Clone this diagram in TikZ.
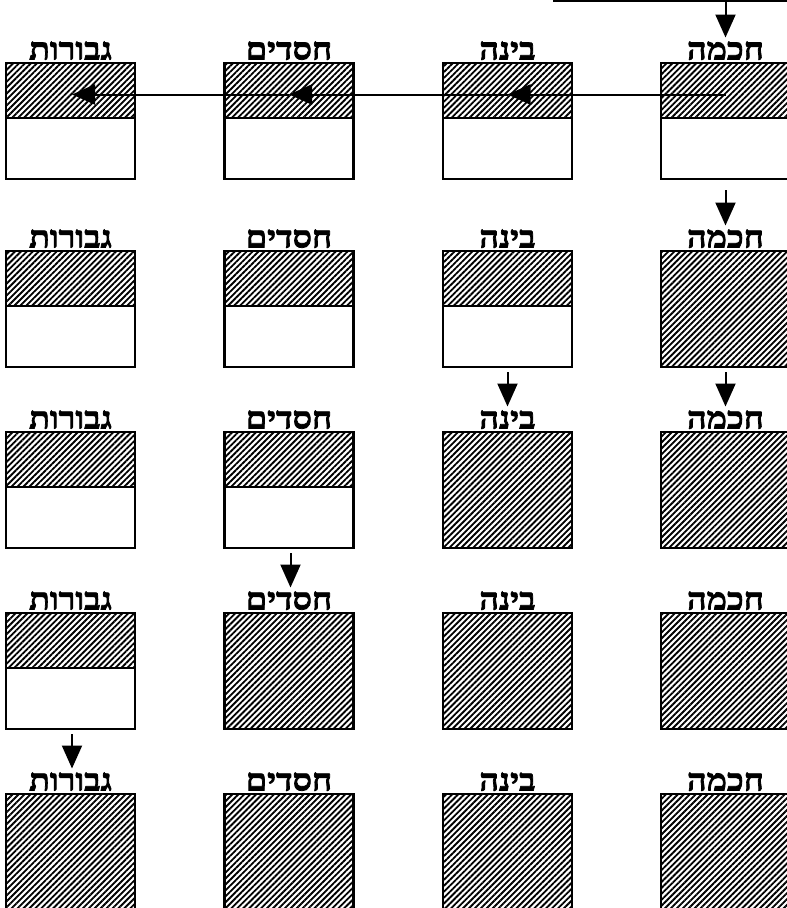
\documentclass[tikz,border=0pt]{standalone}
\usepackage{fontspec}
\newfontfamily\hebfont[Script=Hebrew,FakeStretch=1.12,FakeBold=2.5]{Liberation Serif Bold}
\TeXXeTstate=1
\usetikzlibrary{arrows.meta,patterns.meta,calc}
\begin{document}
\begin{tikzpicture}[x=1pt,y=-1pt,
  box/.style={draw=black,line width=2.2pt,minimum width=129pt,inner sep=0pt,outer sep=0pt},
  hatch/.style={pattern={Lines[angle=45,distance=4.2pt,line width=1.85pt]}},
  fullbox/.style={box,hatch,minimum height=116pt,anchor=north},
  halfbox/.style={box,fill=white,minimum height=116pt,anchor=north},
  tophalf/.style={box,hatch,minimum height=55pt,anchor=north},
  lbl/.style={font=\hebfont\fontsize{30.5}{30.5}\selectfont,anchor=base,inner sep=0pt},
  wire/.style={line width=2pt},
  arr/.style={line width=2pt,-{Triangle[length=23pt,width=20pt]}},
]
\useasboundingbox (0,0) rectangle (787,908);
\begin{scope}
\clip (0,0) rectangle (787,908);
\foreach \r/\top in {1/63,2/251,3/432,4/613,5/794}{
  \foreach \c/\cx/\name in {1/70.5/גבורות,2/289/חסדים,3/507.5/בינה,4/725.5/חכמה}{
    \pgfmathtruncatemacro{\isfull}{\c>=6-\r ? 1 : 0}
    \ifnum\isfull=1
      \node[fullbox] (b-\r-\c) at (\cx,\top) {};
    \else
      \node[halfbox] (b-\r-\c) at (\cx,\top) {};
      \node[tophalf] (t-\r-\c) at (\cx,\top) {};
    \fi
    \node[lbl] (l-\r-\c) at (\cx,\top-3.5) {\beginR\name\endR};
  }
}
% incoming line at the top
\coordinate (in-a) at (553,1);
\coordinate (in-b) at (792,1);
\coordinate (in-j) at (725.5,1);
\draw[wire] (in-a) -- (in-b);
\draw[arr] (in-j) -- ([yshift=25.5pt]b-1-4.north);
% horizontal spreading in row 1
\coordinate (h4) at ([yshift=-4pt]t-1-4.center);
\coordinate (h3) at ([yshift=-4pt]t-1-3.center);
\coordinate (h2) at ([yshift=-4pt]t-1-2.center);
\coordinate (h1) at ([yshift=-4pt,xshift=1.5pt]t-1-1.center);
\draw[arr] (h4) -- (h3);
\draw[arr] (h3) -- (h2);
\draw[arr] (h2) -- (h1);
% vertical arrows
\draw[arr] ([yshift=-11pt]b-1-4.south) -- ([yshift=25.5pt]b-2-4.north);
\draw[arr] ([yshift=-5pt]b-2-4.south) -- ([yshift=25.5pt]b-3-4.north);
\draw[arr] ([yshift=-5pt]b-2-3.south) -- ([yshift=25.5pt]b-3-3.north);
\draw[arr] ([yshift=-5pt,xshift=1.5pt]b-3-2.south) -- ([yshift=25.5pt,xshift=1.5pt]b-4-2.north);
\draw[arr] ([yshift=-5pt,xshift=1.5pt]b-4-1.south) -- ([yshift=25.5pt,xshift=1.5pt]b-5-1.north);
\end{scope}
\end{tikzpicture}
\end{document}
